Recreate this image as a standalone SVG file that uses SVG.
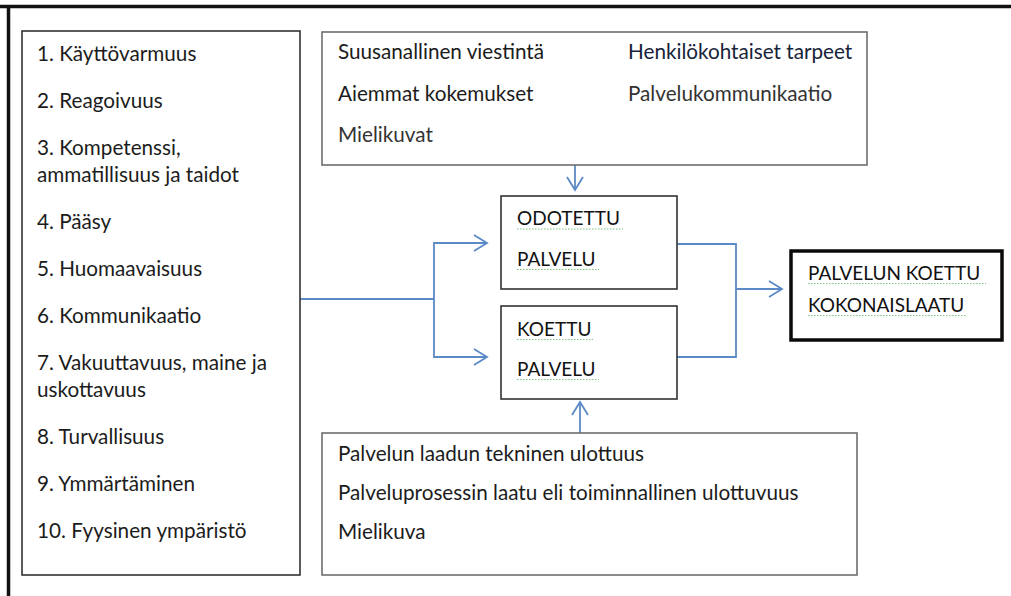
<svg xmlns="http://www.w3.org/2000/svg" width="1011" height="596" viewBox="0 0 1011 596">
<style>
.t{font-family:Lato,"Open Sans","Liberation Sans",sans-serif;font-size:20.7px;fill:#1c1c1c}
.k{font-family:Lato,"Open Sans","Liberation Sans",sans-serif;font-size:19px;fill:#111}
.box{fill:#fff;stroke:#333;stroke-width:1.6}
.gbox{fill:#fff;stroke:#6e6e6e;stroke-width:1.6}
.c{fill:none;stroke:#5b8ac6;stroke-width:1.8}
.sq{fill:none;stroke:#7cc47c;stroke-width:1.2;stroke-dasharray:1.5 1.5}
</style>
<defs>
<marker id="ah" markerUnits="userSpaceOnUse" markerWidth="16" markerHeight="20" viewBox="0 0 16 20" refX="14" refY="10" orient="auto">
<path d="M1,2 L14,10 L1,18" fill="none" stroke="#5b8ac6" stroke-width="1.8"/>
</marker>
</defs>
<rect width="1011" height="596" fill="#fff"/>
<g id="frame">
<line x1="0" y1="6.5" x2="1011" y2="6.5" stroke="#111" stroke-width="3.5"/>
<line x1="8.5" y1="5" x2="8.5" y2="596" stroke="#111" stroke-width="3.5"/>
</g>
<g id="connectors">
<line class="c" x1="575" y1="165" x2="575" y2="190" marker-end="url(#ah)"/>
<line class="c" x1="580" y1="433" x2="580" y2="402" marker-end="url(#ah)"/>
<polyline class="c" points="300,299 434,299"/>
<polyline class="c" points="486,243 434,243 434,357 486,357"/>
<line class="c" x1="434" y1="243" x2="487" y2="243" marker-end="url(#ah)"/>
<line class="c" x1="434" y1="357" x2="487" y2="357" marker-end="url(#ah)"/>
<polyline class="c" points="677,244 736,244 736,357 677,357"/>
<line class="c" x1="736" y1="289" x2="782" y2="289" marker-end="url(#ah)"/>
</g>
<g id="dimensions">
<rect class="box" x="22" y="31" width="278" height="544"/>
<text class="t" x="37" y="61">1. Käyttövarmuus</text>
<text class="t" x="37" y="108">2. Reagoivuus</text>
<text class="t" x="37" y="155">3. Kompetenssi,</text>
<text class="t" x="37" y="182">ammatillisuus ja taidot</text>
<text class="t" x="37" y="229">4. Pääsy</text>
<text class="t" x="37" y="276">5. Huomaavaisuus</text>
<text class="t" x="37" y="323">6. Kommunikaatio</text>
<text class="t" x="37" y="370">7. Vakuuttavuus, maine ja</text>
<text class="t" x="37" y="397">uskottavuus</text>
<text class="t" x="37" y="444">8. Turvallisuus</text>
<text class="t" x="37" y="491">9. Ymmärtäminen</text>
<text class="t" x="37" y="538">10. Fyysinen ympäristö</text>
</g>
<g id="expectations">
<rect class="gbox" x="322" y="32" width="545" height="133"/>
<text class="t" x="338" y="59">Suusanallinen viestintä</text>
<text class="t" x="628" y="59" style="fill:#17233a">Henkilökohtaiset tarpeet</text>
<text class="t" x="338" y="101">Aiemmat kokemukset</text>
<text class="t" x="628" y="101" style="fill:#333">Palvelukommunikaatio</text>
<text class="t" x="338" y="142" style="fill:#333">Mielikuvat</text>
</g>
<g id="expected">
<rect class="box" x="501" y="196" width="176" height="93"/>
<text class="k" x="517" y="225">ODOTETTU</text>
<line class="sq" x1="517" y1="229" x2="623" y2="229"/>
<text class="k" x="517" y="266">PALVELU</text>
<line class="sq" x1="517" y1="269.5" x2="599" y2="269.5"/>
</g>
<g id="experienced">
<rect class="box" x="501" y="306" width="176" height="93"/>
<text class="k" x="517" y="336">KOETTU</text>
<line class="sq" x1="517" y1="339.5" x2="593" y2="339.5"/>
<text class="k" x="517" y="376">PALVELU</text>
<line class="sq" x1="517" y1="379.5" x2="599" y2="379.5"/>
</g>
<g id="total">
<rect x="791" y="251" width="211" height="89" fill="#fff" stroke="#0a0a0a" stroke-width="3.5"/>
<text class="k" x="808" y="280">PALVELUN KOETTU</text>
<line class="sq" x1="808" y1="283.5" x2="986" y2="283.5"/>
<text class="k" x="808" y="312">KOKONAISLAATU</text>
<line class="sq" x1="808" y1="315.5" x2="966" y2="315.5"/>
</g>
<g id="experience">
<rect class="gbox" x="322" y="433" width="535" height="142"/>
<text class="t" x="338" y="461">Palvelun laadun tekninen ulottuus</text>
<text class="t" x="338" y="500">Palveluprosessin laatu eli toiminnallinen ulottuvuus</text>
<text class="t" x="338" y="539">Mielikuva</text>
</g>
</svg>
